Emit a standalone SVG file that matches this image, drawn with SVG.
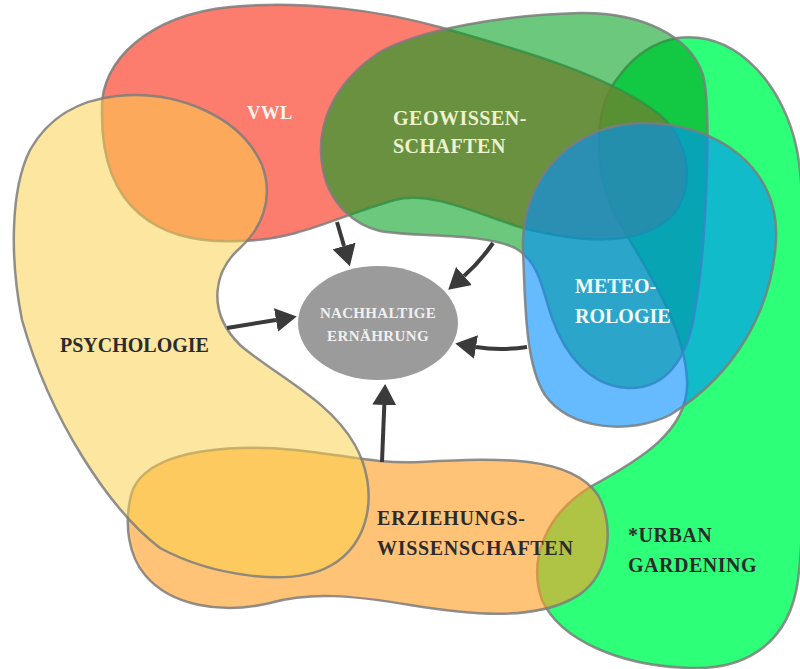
<svg xmlns="http://www.w3.org/2000/svg" width="800" height="669" viewBox="0 0 800 669">
  <style>
    .blob { stroke: #7c7c7c; stroke-width: 2.5; stroke-opacity: 0.85; stroke-linejoin: round; }
    .lbl { font-family: "Liberation Serif", "Times New Roman", serif; font-weight: bold; }
    .dark { fill: #2b2b2b; font-size: 20px; }
    .light { font-size: 20px; }
    .link { fill: none; stroke: #3a3a3a; stroke-width: 4; marker-end: url(#head); }
  </style>
  <defs>
    <marker id="head" viewBox="0 0 21 24" refX="0" refY="12" markerWidth="21" markerHeight="24" markerUnits="userSpaceOnUse" orient="auto">
      <path d="M0,0 L21,12 L0,24 Z" fill="#3a3a3a"/>
    </marker>
  </defs>

  <rect width="800" height="669" fill="#ffffff"/>

  <!-- Urban gardening: bright green, lowest layer -->
  <g id="urban-gardening">
    <path class="blob" fill="#2eff78" d="M677,38 C740,30 785,90 797,150 C810,220 808,500 798,580 C790,640 750,670 690,668 C620,666 560,640 542,600 C528,560 545,515 590,487 C640,460 690,430 687,380 C684,320 640,260 615,215 C595,175 590,110 620,75 C635,55 655,42 677,38 Z"/>
    <text class="lbl dark" x="628" y="542" letter-spacing="0.5">*URBAN</text>
    <text class="lbl dark" x="628" y="572" letter-spacing="0.5">GARDENING</text>
  </g>

  <!-- VWL -->
  <g id="vwl">
    <path class="blob" fill="#fb5d4a" fill-opacity="0.8" d="M102,110 C100,60 150,15 230,7 C300,0 380,10 443,28 C520,50 610,75 660,115 C695,145 695,200 665,222 C630,248 570,240 523,228 C480,215 430,190 395,200 C340,215 300,240 240,241 C160,245 100,210 102,110 Z"/>
    <text class="lbl" x="247" y="119" fill="#fff3ef" font-size="18.5" letter-spacing="0.6">VWL</text>
  </g>

  <!-- Geowissenschaften -->
  <g id="geowissenschaften">
    <path class="blob" fill="#00a01e" fill-opacity="0.58" d="M323,170 C315,130 330,85 380,52 C420,30 500,15 580,13 C640,12 690,35 703,75 C712,110 706,250 695,310 C688,360 665,390 627,388 C590,386 565,355 552,318 C542,290 540,262 515,248 C480,232 420,238 380,231 C355,225 330,205 323,170 Z"/>
    <text class="lbl light" x="393" y="125" fill="#eef2cf" letter-spacing="0.5">GEOWISSEN-</text>
    <text class="lbl light" x="393" y="153" fill="#eef2cf" letter-spacing="0.5">SCHAFTEN</text>
  </g>

  <!-- Meteorologie -->
  <g id="meteorologie">
    <path class="blob" fill="#008eff" fill-opacity="0.6" d="M523,250 C520,180 570,125 640,123 C720,122 780,170 776,240 C772,310 735,375 670,415 C630,435 570,430 545,395 C525,365 525,300 523,250 Z"/>
    <text class="lbl light" x="575" y="293" fill="#f2fbff">METEO-</text>
    <text class="lbl light" x="575" y="323" fill="#f2fbff">ROLOGIE</text>
  </g>

  <!-- Erziehungswissenschaften -->
  <g id="erziehungswissenschaften">
    <path class="blob" fill="#ff9e25" fill-opacity="0.62" d="M130,500 C135,465 180,450 240,448 C320,446 360,465 420,462 C500,458 570,455 598,495 C615,525 612,580 570,600 C530,620 470,615 410,605 C350,595 310,592 270,603 C220,615 170,605 145,575 C128,555 125,525 130,500 Z"/>
  </g>

  <!-- Psychologie -->
  <g id="psychologie">
    <path class="blob" fill="#fbd04b" fill-opacity="0.53" d="M117,96 C175,90 240,115 262,165 C275,200 260,230 240,248 C215,270 205,310 240,345 C275,375 330,400 355,445 C380,490 370,545 330,566 C290,588 210,575 160,548 C110,510 50,420 22,320 C10,260 10,190 30,150 C50,115 80,100 117,96 Z"/>
    <text class="lbl dark" x="60" y="352">PSYCHOLOGIE</text>
  </g>

  <!-- labels of the education blob stay above the overlapping fills -->
  <g id="erziehungswissenschaften-label">
    <text class="lbl dark" x="377" y="525" letter-spacing="0.8">ERZIEHUNGS-</text>
    <text class="lbl dark" x="377" y="555" letter-spacing="0.7">WISSENSCHAFTEN</text>
  </g>

  <!-- central goal -->
  <g id="nachhaltige-ernaehrung">
    <ellipse cx="378" cy="323" rx="80" ry="57" fill="#9b9b9b"/>
    <text class="lbl" x="378" y="318" text-anchor="middle" fill="#f0f0f0" font-size="15" letter-spacing="0.3">NACHHALTIGE</text>
    <text class="lbl" x="378" y="341" text-anchor="middle" fill="#f0f0f0" font-size="15" letter-spacing="0.4">ERNÄHRUNG</text>
  </g>

  <!-- arrows into the centre -->
  <g id="connectors">
    <path class="link" d="M337,222 L344,246"/>
    <path class="link" d="M493,243 Q480,262 464,276"/>
    <path class="link" d="M227,328 L276,320"/>
    <path class="link" d="M527,347 Q500,351 476,347"/>
    <path class="link" d="M382,462 L384.3,405"/>
  </g>
</svg>
